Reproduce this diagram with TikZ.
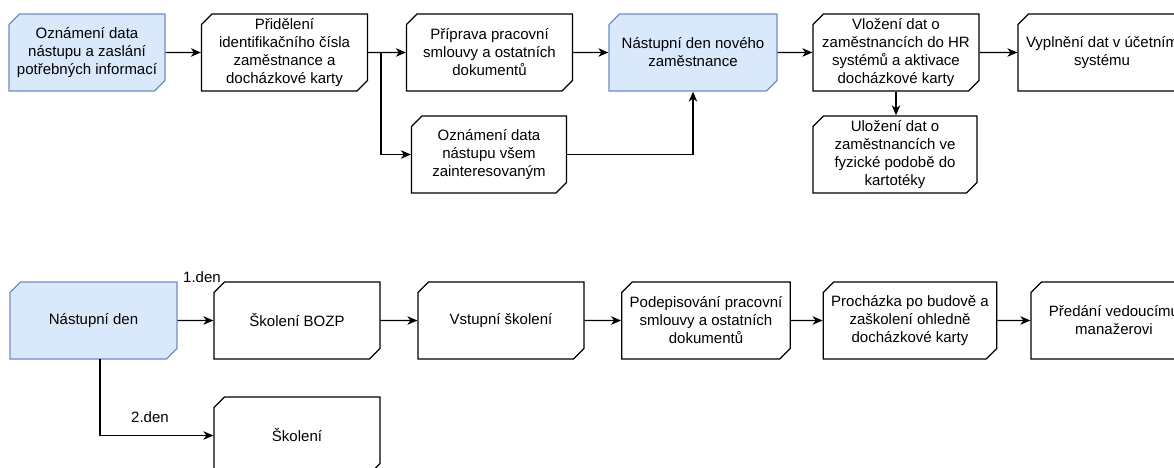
\documentclass[tikz,border=0pt]{standalone}
\usepackage{fontspec}
\setmainfont{Liberation Sans}
\usetikzlibrary{arrows.meta,shapes.misc}
\definecolor{stepfill}{HTML}{DAE8FC}
\definecolor{stepline}{HTML}{6C8EBF}
\begin{document}
\begin{tikzpicture}[x=1pt,y=-1pt,
  card/.style={chamfered rectangle,
    chamfered rectangle corners={north west,south east},
    chamfered rectangle xsep=7pt,
    draw=black, fill=white, line width=1.25pt,
    minimum width=166pt, minimum height=77pt, inner sep=1pt,
    align=center, font=\fontsize{15}{18}\selectfont},
  startcard/.style={card, draw=stepline, fill=stepfill},
  flow/.style={line width=1.25pt, -{Stealth[length=10pt,width=8.5pt,inset=3pt]}},
  daylabel/.style={font=\fontsize{15}{18}\selectfont, inner sep=0pt}
]
\clip (0,0) rectangle (1174,467);
\fill[white] (0,0) rectangle (1174,467);

% onboarding preparation
\node[startcard, minimum width=153pt] (A) at (87,52.5) {Oznámení data\\nástupu a zaslání\\potřebných informací};
\node[card] (B) at (284.5,52.5) {Přidělení\\identifikačního čísla\\zaměstnance a\\docházkové karty};
\node[card] (C) at (489.5,52.5) {Příprava pracovní\\smlouvy a ostatních\\dokumentů};
\node[card, minimum width=155pt] (D) at (489,154.5) {Oznámení data\\nástupu všem\\zainteresovaným};
\node[startcard, minimum width=168pt] (E) at (693,52.5) {Nástupní den nového\\zaměstnance};
\node[card] (F) at (896,52.5) {Vložení dat o\\zaměstnancích do HR\\systémů a aktivace\\docházkové karty};
\node[card] (G) at (1102,52.5) {Vyplnění dat v účetním\\systému};
\node[card, minimum width=164pt] (H) at (895,154.5) {Uložení dat o\\zaměstnancích ve\\fyzické podobě do\\kartotéky};

\coordinate (Bsplit) at (381,52.5);
\draw[flow] (A) -- (B);
\draw[flow] (B) -- (C);
\draw[flow] (Bsplit) |- (D.west);
\draw[flow] (C) -- (E);
\draw[flow] (D.east) -| (E.south);
\draw[flow] (E) -- (F);
\draw[flow] (F) -- (G);
\draw[flow] (F.south) -- (F.south |- H.north);

% first days
\node[startcard, minimum width=167pt] (I) at (93.5,320.5) {Nástupní den};
\node[card] (J) at (297,320.5) {Školení BOZP};
\node[card] (K) at (297,435.5) {Školení};
\node[card] (L) at (501,320.5) {Vstupní školení};
\node[card] (M) at (706,320.5) {Podepisování pracovní\\smlouvy a ostatních\\dokumentů};
\node[card] (N) at (910,320.5) {Procházka po budově a\\zaškolení ohledně\\docházkové karty};
\node[card] (O) at (1114,320.5) {Předání vedoucímu\\manažerovi};

\coordinate (Idown) at (100,359);
\draw[flow] (I) -- (J);
\draw[flow] (Idown) |- (K.west);
\draw[flow] (J) -- (L);
\draw[flow] (L) -- (M);
\draw[flow] (M) -- (N);
\draw[flow] (N) -- (O);

\node[daylabel] (d1) at (202,277) {1.den};
\node[daylabel] (d2) at (150,417) {2.den};
\end{tikzpicture}
\end{document}
